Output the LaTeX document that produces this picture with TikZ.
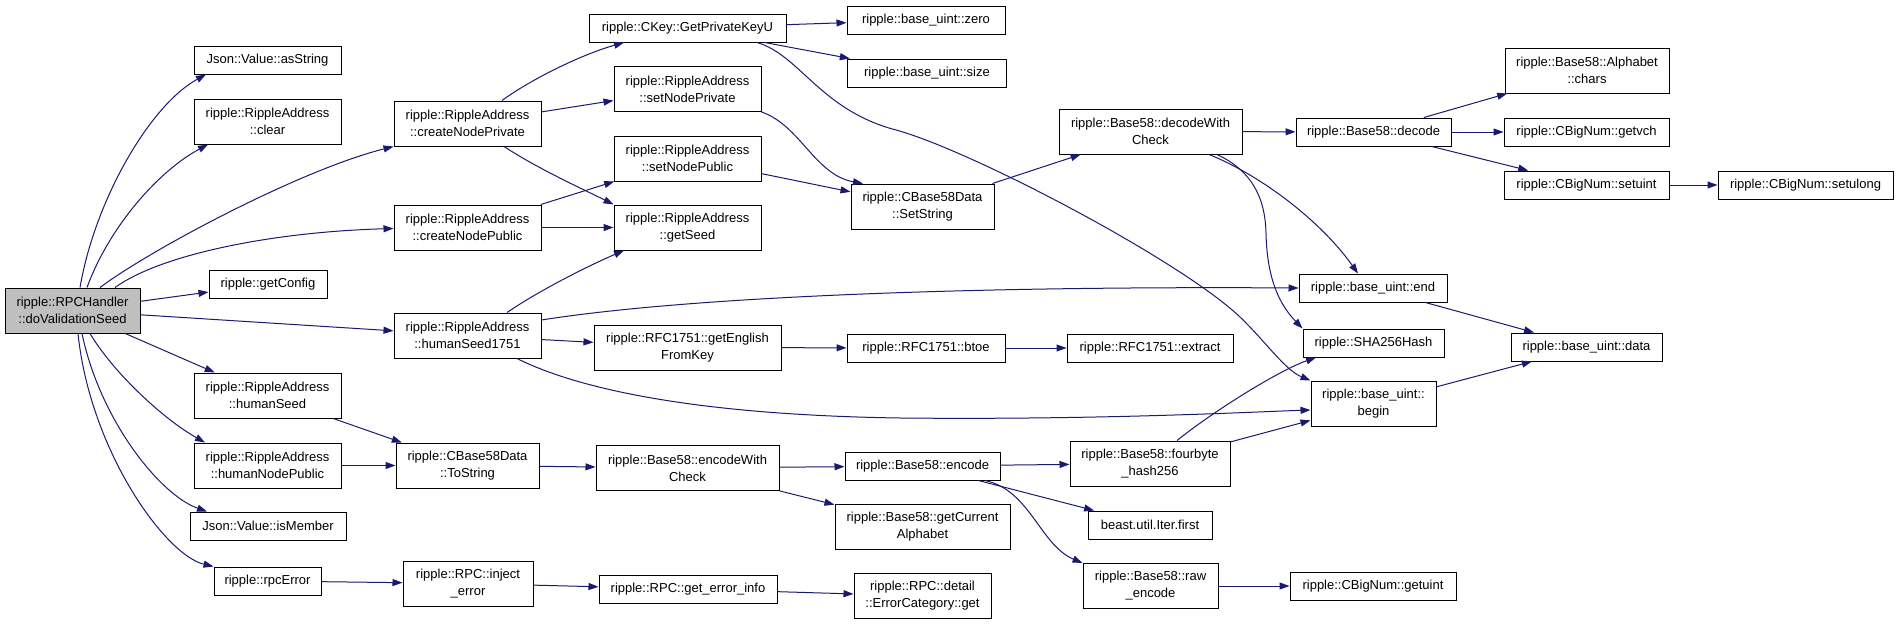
\documentclass[tikz,border=0pt]{standalone}
\usepackage{fontspec}
\setmainfont{Liberation Sans}
\usetikzlibrary{arrows.meta}
\definecolor{edgeblue}{HTML}{191970}
\definecolor{rootgray}{HTML}{BFBFBF}
\begin{document}
\begin{tikzpicture}[x=1pt,y=-1pt,
  fn/.style={draw=black, line width=1pt, fill=white, inner sep=0pt, align=center,
    font=\fontsize{13pt}{17pt}\selectfont},
  one/.style={fn, minimum height=28pt},
  two/.style={fn, minimum height=45pt},
  e/.style={draw=edgeblue, line width=1pt, -{Triangle[length=10pt,width=7pt]}}]
\path[use as bounding box] (0,0) rectangle (1899,624);

% column 0
\node[two, fill=rootgray, minimum width=135pt] (root) at (72.5,310.5) {ripple::RPCHandler\\::doValidationSeed};
% column 1
\node[one, minimum width=147pt] (asString) at (267.5,60) {Json::Value::asString};
\node[two, minimum width=147pt] (clear) at (267.5,121.5) {ripple::RippleAddress\\::clear};
\node[one, minimum width=118pt] (getConfig) at (268,284) {ripple::getConfig};
\node[two, minimum width=147pt] (humanSeed) at (267.5,395.5) {ripple::RippleAddress\\::humanSeed};
\node[two, minimum width=147pt] (humanNodePublic) at (267.5,465.5) {ripple::RippleAddress\\::humanNodePublic};
\node[one, minimum width=156pt] (isMember) at (268,526) {Json::Value::isMember};
\node[one, minimum width=107pt] (rpcError) at (267.5,581) {ripple::rpcError};
% column 2
\node[two, minimum width=147pt] (createNodePrivate) at (467.5,123.5) {ripple::RippleAddress\\::createNodePrivate};
\node[two, minimum width=147pt] (createNodePublic) at (467.5,227.5) {ripple::RippleAddress\\::createNodePublic};
\node[two, minimum width=147pt] (humanSeed1751) at (467.5,335.5) {ripple::RippleAddress\\::humanSeed1751};
\node[two, minimum width=143pt] (ToString) at (467.5,465.5) {ripple::CBase58Data\\::ToString};
\node[two, minimum width=130pt] (injectError) at (468,583.5) {ripple::RPC::inject\\\_error};
% column 3
\node[one, minimum width=197pt] (GetPrivateKeyU) at (687.5,28) {ripple::CKey::GetPrivateKeyU};
\node[two, minimum width=147pt] (setNodePrivate) at (687.5,89) {ripple::RippleAddress\\::setNodePrivate};
\node[two, minimum width=147pt] (setNodePublic) at (687.5,158.5) {ripple::RippleAddress\\::setNodePublic};
\node[two, minimum width=147pt] (getSeed) at (687.5,227.5) {ripple::RippleAddress\\::getSeed};
\node[two, minimum width=187pt] (getEnglishFromKey) at (687.5,347.5) {ripple::RFC1751::getEnglish\\FromKey};
\node[two, minimum width=183pt] (encodeWithCheck) at (687.5,468) {ripple::Base58::encodeWith\\Check};
\node[one, minimum width=178pt] (getErrorInfo) at (688,589) {ripple::RPC::get\_error\_info};
% column 4
\node[one, minimum width=158pt] (zero) at (926,20) {ripple::base\_uint::zero};
\node[one, minimum width=159pt] (size) at (927,73) {ripple::base\_uint::size};
\node[two, minimum width=143pt] (SetString) at (922.5,206.5) {ripple::CBase58Data\\::SetString};
\node[one, minimum width=158pt] (btoe) at (926,348) {ripple::RFC1751::btoe};
\node[one, minimum width=155pt] (encode) at (922.5,466) {ripple::Base58::encode};
\node[two, minimum width=175pt] (getCurrentAlphabet) at (922.5,526.5) {ripple::Base58::getCurrent\\Alphabet};
\node[two, minimum width=137pt] (errGet) at (922.5,596) {ripple::RPC::detail\\::ErrorCategory::get};
% column 5
\node[two, minimum width=183pt] (decodeWithCheck) at (1150.5,131.5) {ripple::Base58::decodeWith\\Check};
\node[one, minimum width=166pt] (extract) at (1150,348) {ripple::RFC1751::extract};
\node[two, minimum width=160pt] (fourbyte) at (1150,463.5) {ripple::Base58::fourbyte\\\_hash256};
\node[one, minimum width=124pt] (first) at (1150,525) {beast.util.Iter.first};
\node[two, minimum width=135pt] (rawEncode) at (1150.5,586) {ripple::Base58::raw\\\_encode};
% column 6
\node[one, minimum width=155pt] (decode) at (1373.5,132) {ripple::Base58::decode};
\node[one, minimum width=148pt] (uend) at (1373,288) {ripple::base\_uint::end};
\node[one, minimum width=141pt] (sha) at (1373.5,343) {ripple::SHA256Hash};
\node[two, minimum width=125pt] (ubegin) at (1373.5,403.5) {ripple::base\_uint::\\begin};
\node[one, minimum width=166pt] (getuint) at (1373,586) {ripple::CBigNum::getuint};
% column 7
\node[two, minimum width=164pt] (chars) at (1587,70.5) {ripple::Base58::Alphabet\\::chars};
\node[one, minimum width=165pt] (getvch) at (1586.5,132) {ripple::CBigNum::getvch};
\node[one, minimum width=165pt] (setuint) at (1586.5,185) {ripple::CBigNum::setuint};
\node[one, minimum width=151pt] (udata) at (1586.5,347) {ripple::base\_uint::data};
% column 8
\node[one, minimum width=175pt] (setulong) at (1805.5,185) {ripple::CBigNum::setulong};

% edges from root
\draw[e] ([xshift=7.5pt]root.north) .. controls (95,200) and (150,105) .. ([xshift=-61.5pt]asString.south);
\draw[e] ([xshift=14.5pt]root.north) .. controls (110,225) and (160,170) .. ([xshift=-59.5pt]clear.south);
\draw[e] ([xshift=27.5pt]root.north) .. controls (150,250) and (300,170) .. (createNodePrivate.south west);
\draw[e] ([xshift=42.5pt]root.north) .. controls (160,255) and (270,232) .. ([yshift=-1pt]createNodePublic.west);
\draw[e] (root) -- (getConfig);
\draw[e] (root) -- (humanSeed1751);
\draw[e] (root) -- (humanSeed);
\draw[e] ([xshift=17.5pt]root.south) .. controls (115,375) and (165,420) .. ([xshift=-62.5pt]humanNodePublic.north);
\draw[e] ([xshift=9.5pt]root.south) .. controls (100,420) and (160,495) .. ([xshift=-61pt]isMember.north);
\draw[e] ([xshift=5.5pt]root.south) .. controls (90,450) and (165,555) .. (rpcError.north west);

% column 2 edges
\draw[e] ([xshift=34.5pt]createNodePrivate.north) .. controls (530,80) and (580,55) .. ([xshift=-63.5pt]GetPrivateKeyU.south);
\draw[e] (createNodePrivate) -- (setNodePrivate);
\draw[e] ([xshift=36.5pt]createNodePrivate.south) .. controls (540,170) and (585,190) .. (getSeed.north west);
\draw[e] (createNodePublic) -- (setNodePublic);
\draw[e] (createNodePublic) -- (getSeed);
\draw[e] ([xshift=39.5pt]humanSeed1751.north) .. controls (540,290) and (590,265) .. ([xshift=-63.5pt]getSeed.south);
\draw[e] ([yshift=15.5pt]humanSeed1751.east) .. controls (700,295) and (1000,286) .. (uend.west);
\draw[e] (humanSeed1751) -- (getEnglishFromKey);
\draw[e] ([xshift=49.5pt]humanSeed1751.south) .. controls (580,390) and (700,415) .. (900,418) .. controls (1100,420) and (1250,412) .. ([yshift=-6.5pt]ubegin.west);
\draw[e] (humanSeed) -- (ToString);
\draw[e] (humanNodePublic) -- (ToString);
\draw[e] (ToString) -- (encodeWithCheck);
\draw[e] (rpcError) -- (injectError);
\draw[e] (injectError) -- (getErrorInfo);
\draw[e] (getErrorInfo) -- (errGet);

% column 3 edges
\draw[e] (GetPrivateKeyU) -- (zero);
\draw[e] (GetPrivateKeyU) -- (size);
\draw[e] ([xshift=69.5pt]GetPrivateKeyU.south) .. controls (800,55) and (820,110) .. (896,130) .. controls (970,150) and (1180,260) .. (1240,317) .. controls (1265,341) and (1285,370) .. (ubegin.north west);
\draw[e] (setNodePrivate.south east) .. controls (800,125) and (815,175) .. ([xshift=-59.5pt]SetString.north);
\draw[e] (setNodePublic) -- (SetString);
\draw[e] (getEnglishFromKey) -- (btoe);
\draw[e] (encodeWithCheck) -- (encode);
\draw[e] (encodeWithCheck) -- (getCurrentAlphabet);

% column 4 edges
\draw[e] (SetString) -- (decodeWithCheck);
\draw[e] (btoe) -- (extract);
\draw[e] (encode) -- (fourbyte);
\draw[e] (encode) -- (first);
\draw[e] ([xshift=62.5pt]encode.south) .. controls (1030,490) and (1040,545) .. (rawEncode.north west);

% column 5 edges
\draw[e] (decodeWithCheck) -- (decode);
\draw[e] ([xshift=58.5pt]decodeWithCheck.south) .. controls (1260,175) and (1320,220) .. ([xshift=-15pt]uend.north);
\draw[e] ([xshift=66.5pt]decodeWithCheck.south) .. controls (1250,170) and (1265,195) .. (1266,233) .. controls (1267,280) and (1280,305) .. (sha.north west);
\draw[e] ([xshift=27pt]fourbyte.north) .. controls (1215,410) and (1280,370) .. ([xshift=-57.5pt]sha.south);
\draw[e] (fourbyte) -- (ubegin);
\draw[e] (rawEncode) -- (getuint);

% column 6 edges
\draw[e] (decode) -- (chars);
\draw[e] (decode) -- (getvch);
\draw[e] (decode) -- (setuint);
\draw[e] (uend) -- (udata);
\draw[e] (ubegin) -- (udata);

% column 7 edges
\draw[e] (setuint) -- (setulong);
\end{tikzpicture}
\end{document}
